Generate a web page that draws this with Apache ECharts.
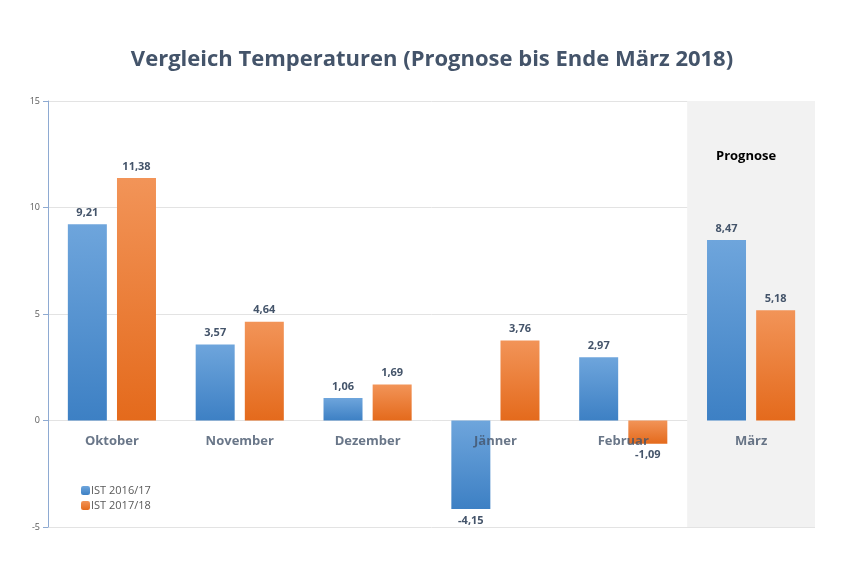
<!DOCTYPE html>
<html><head><meta charset="utf-8">
<script src="https://cdn.jsdelivr.net/npm/echarts@6/dist/echarts.min.js"></script>
<style>html,body{margin:0;padding:0;background:#fff}#c{width:864px;height:576px}</style>
</head><body><div id="c"></div>
<script>
const categories = ['Oktober','November','Dezember','Jänner','Februar','März'];
const ist1617 = [9.21, 3.57, 1.06, -4.15, 2.97, 8.47];
const ist1718 = [11.38, 4.64, 1.69, 3.76, -1.09, 5.18];
const seriesNames = ['IST 2016/17','IST 2017/18'];
const yTicks = {min:-5, max:15, interval:5};

const chart = echarts.init(document.getElementById('c'));
const fontFam = '"Open Sans", "Noto Sans", sans-serif';
function grad(top, bottom){
  return new echarts.graphic.LinearGradient(0,0,0,1,[{offset:0,color:top},{offset:1,color:bottom}]);
}
function items(arr){
  return arr.map(v => ({value:v, label:{position: v<0 ? 'bottom' : 'top'}}));
}
const lbl = {show:true, distance:6, color:'#44546a', fontSize:11, fontWeight:'bold', fontFamily:fontFam,
  formatter: p => p.value.toFixed(2).replace('.', ',')};
chart.setOption({
  animation:false,
  title:{text:'Vergleich Temperaturen (Prognose bis Ende März 2018)', left:'center', top:44,
    textStyle:{fontSize:22, fontWeight:'bold', color:'#44546a', fontFamily:fontFam}},
  grid:{left:48, right:49, top:101, bottom:49},
  legend:{orient:'vertical', left:76, top:480, itemWidth:9, itemHeight:9, itemGap:4,
    textStyle:{fontSize:11, color:'#595959', fontFamily:fontFam, padding:[0,0,0,-4]}, data:seriesNames},
  xAxis:{type:'category', data:categories,
    axisLine:{show:false}, axisTick:{show:false},
    axisLabel:{show:false},
    splitArea:{show:true, areaStyle:{color:['rgba(0,0,0,0)','rgba(0,0,0,0)','rgba(0,0,0,0)','rgba(0,0,0,0)','rgba(0,0,0,0)','#f2f2f2']}}},
  yAxis:{type:'value', min:yTicks.min, max:yTicks.max, interval:yTicks.interval,
    axisLine:{show:true, lineStyle:{color:'#8eaad2'}}, axisTick:{show:true, length:5, lineStyle:{color:'#8eaad2'}},
    axisLabel:{fontSize:9, color:'#595959', fontFamily:fontFam, margin:8},
    splitLine:{lineStyle:{color:'#e3e3e3'}}},
  graphic:[{type:'text', left:716, top:150, z:100, style:{text:'Prognose', fontSize:13, fontWeight:'bold', fill:'#000', fontFamily:fontFam}}],
  series:[
    {name:seriesNames[0], type:'bar', data:items(ist1617), barWidth:39, barGap:'26%',
     itemStyle:{color:grad('#6ea5dc','#3d80c4')}, label:lbl},
    {name:seriesNames[1], type:'bar', data:items(ist1718), barWidth:39,
     itemStyle:{color:grad('#f29458','#e46a1c')}, label:lbl},
    {name:'cat', type:'scatter', data:categories.map(c => [c, 0]), symbolSize:0, z:10, silent:true,
     label:{show:true, position:'bottom', distance:14, formatter: p => p.name || p.value[0],
       fontSize:13, fontWeight:'bold', color:'#44546a', fontFamily:fontFam}}
  ]
});
</script></body></html>
